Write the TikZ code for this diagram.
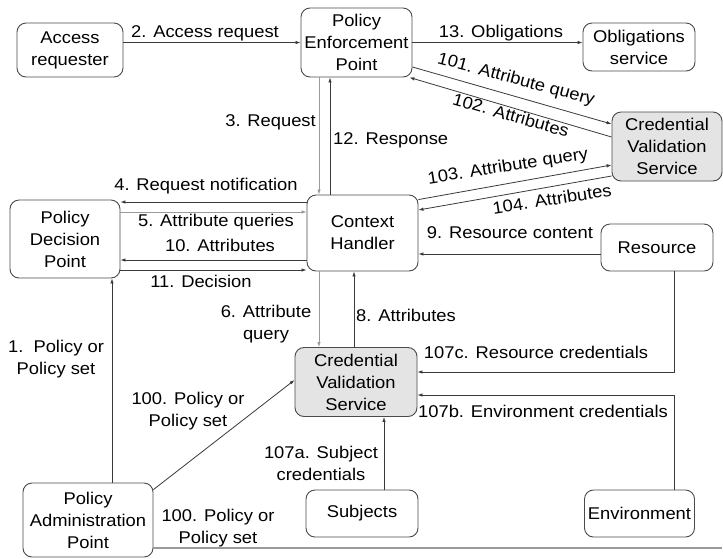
\documentclass[tikz,border=0pt]{standalone}
\usepackage{fontspec}
\setmainfont{Liberation Sans}[FakeStretch=1.08]
\usetikzlibrary{arrows.meta}
\definecolor{boxline}{HTML}{4A4A4A}
\definecolor{cvsfill}{HTML}{E4E4E4}
\definecolor{darkline}{HTML}{3A3A3A}
\definecolor{lightline}{HTML}{9A9A9A}
\tikzset{
 box/.style={draw=boxline, line width=0.9pt, rounded corners=9pt, align=center, inner sep=0pt, font=\fontsize{17}{22}\selectfont, text=black},
 cvsbox/.style={box, fill=cvsfill},
 lbl/.style={font=\fontsize{17}{22}\selectfont, align=center, inner sep=0pt, text=black},
 conn/.style={draw=darkline, line width=0.8pt, -{Latex[length=5pt,width=3.5pt]}},
 lconn/.style={conn, draw=lightline},
}
\begin{document}
\begin{tikzpicture}[x=1pt,y=-1pt]
\useasboundingbox[fill=white] (0,0) rectangle (723,558);
% nodes
\node[box, minimum width=106pt, minimum height=54pt] (ar) at (70,50) {Access\\requester};
\node[box, minimum width=111pt, minimum height=69pt] (pep) at (356.5,42.5) {Policy\\Enforcement\\Point};
\node[box, minimum width=112pt, minimum height=48pt] (os) at (639,47) {Obligations\\service};
\node[cvsbox, minimum width=110pt, minimum height=69pt] (cvs1) at (667,146.5) {Credential\\Validation\\Service};
\node[box, minimum width=110pt, minimum height=78pt] (pdp) at (65,239) {Policy\\Decision\\Point};
\node[box, minimum width=111pt, minimum height=76pt] (ch) at (362.5,233) {Context\\Handler};
\node[box, minimum width=112pt, minimum height=47pt] (res) at (657,247.5) {Resource};
\node[cvsbox, minimum width=122pt, minimum height=69pt] (cvs2) at (356,382) {Credential\\Validation\\Service};
\node[box, minimum width=130pt, minimum height=74pt] (pap) at (88,520) {Policy\\Administration\\Point};
\node[box, minimum width=112pt, minimum height=47pt] (subj) at (362,513.5) {Subjects};
\node[box, minimum width=110pt, minimum height=47pt] (env) at (639.5,513.5) {Environment};
% helper coordinates
\coordinate (c101a) at ([yshift=-24.5pt]pep.east);
\coordinate (c101b) at ([yshift=22.5pt]cvs1.west);
\coordinate (c102a) at ([yshift=9.5pt]cvs1.west);
\coordinate (c102b) at ([xshift=-3pt]pep.south east);
\coordinate (c103a) at ([yshift=-5pt]ch.north east);
\coordinate (c103b) at ([yshift=-18.5pt]cvs1.west);
\coordinate (c104a) at ([yshift=-29.5pt]cvs1.west);
\coordinate (c104b) at ([yshift=23pt]ch.east);
\coordinate (c3) at ([xshift=-37.5pt]pep.south);
\coordinate (c12) at ([xshift=-26.5pt]pep.south);
\coordinate (c4) at ([yshift=31pt]ch.west);
\coordinate (c5) at ([yshift=21pt]ch.west);
\coordinate (c10) at ([yshift=-27pt]ch.west);
\coordinate (c11) at ([yshift=-37pt]ch.west);
\coordinate (c6) at ([xshift=-43.5pt]ch.south);
\coordinate (c8) at ([xshift=-2pt]cvs2.north);
\coordinate (c9) at ([yshift=-6.5pt]res.west);
\coordinate (c107c) at ([yshift=10pt]cvs2.east);
\coordinate (c107b) at ([yshift=-13pt]cvs2.east);
\coordinate (c107a) at ([xshift=22pt]subj.north);
\coordinate (c1) at ([xshift=24pt]pap.north);
\coordinate (c100a) at ([yshift=-7pt]pap.north east);
\coordinate (c100b) at ([yshift=2pt]cvs2.west);
\coordinate (c100c) at ([yshift=-28pt]pap.east);
\coordinate (edge) at (722,548);
% connectors
\draw[conn] (ar.east |- pep.west) -- (pep.west);
\draw[conn] (pep.east) -- (os.west |- pep.east);
\draw[conn] (c101a) -- (c101b);
\draw[conn] (c102a) -- (c102b);
\draw[conn] (c103a) -- (c103b);
\draw[conn] (c104a) -- (c104b);
\draw[lconn] (c3) -- (c3 |- ch.north);
\draw[conn] (c12 |- ch.north) -- (c12);
\draw[conn] (c4) -- (pdp.east |- c4);
\draw[lconn] (pdp.east |- c5) -- (c5);
\draw[conn] (c10) -- (pdp.east |- c10);
\draw[conn] (pdp.east |- c11) -- (c11);
\draw[lconn] (c6) -- (c6 |- cvs2.north);
\draw[conn] (c8) -- (c8 |- ch.south);
\draw[conn] (c9) -- (ch.east |- c9);
\draw[conn] ([xshift=17pt]res.south) |- (c107c);
\draw[conn] ([xshift=34.5pt]env.north) |- (c107b);
\draw[conn] (c107a) -- (c107a |- cvs2.south);
\draw[conn] (c1) -- (c1 |- pdp.south);
\draw[conn] (c100a) -- (c100b);
\draw[draw=lightline, line width=1.6pt] (c100c) -- (edge);
% labels
\node[lbl] (l2) at (205,33) {2. Access request};
\node[lbl] (l13) at (501,33) {13. Obligations};
\node[lbl, rotate=-15] (l101) at (516,80) {101. Attribute query};
\node[lbl, rotate=-16] (l102) at (511,115) {102. Attributes};
\node[lbl, rotate=9] (l103) at (508,167) {103. Attribute query};
\node[lbl, rotate=9] (l104) at (552,199) {104. Attributes};
\node[lbl, anchor=east] (l3) at (316,122) {3. Request};
\node[lbl, anchor=west] (l12) at (333,140) {12. Response};
\node[lbl] (l4) at (206,186) {4. Request notification};
\node[lbl] (l5) at (216,222) {5. Attribute queries};
\node[lbl] (l10) at (220,245) {10. Attributes};
\node[lbl] (l11) at (201,281) {11. Decision};
\node[lbl] (l6) at (266,324) {6. Attribute\\query};
\node[lbl, anchor=west] (l8) at (356,315) {8. Attributes};
\node[lbl] (l9) at (510,233) {9. Resource content};
\node[lbl] (l107c) at (536,352) {107c. Resource credentials};
\node[lbl] (l107b) at (543,411) {107b. Environment credentials};
\node[lbl] (l107a) at (321,463) {107a. Subject\\credentials};
\node[lbl] (l1) at (56,359) {1.\ \ Policy or\\Policy set};
\node[lbl] (l100a) at (188,411) {100. Policy or\\Policy set};
\node[lbl] (l100b) at (218,528) {100. Policy or\\Policy set};
\end{tikzpicture}
\end{document}
